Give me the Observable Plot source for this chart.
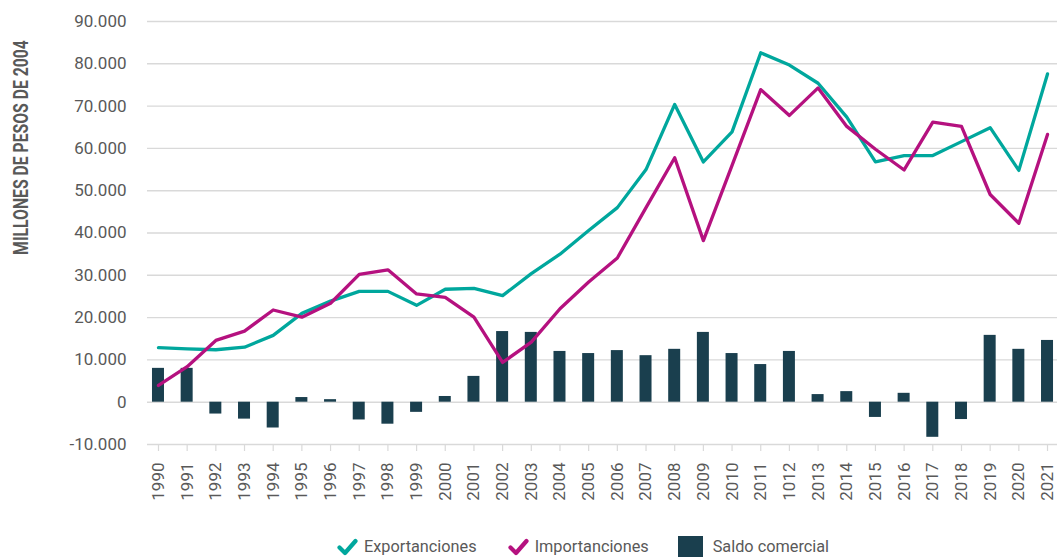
<!DOCTYPE html>
<html>
<head>
<meta charset="utf-8">
<script src="https://cdn.jsdelivr.net/npm/d3@7"></script>
<script src="https://cdn.jsdelivr.net/npm/@observablehq/plot@0.6"></script>
<style>
  html, body { margin: 0; padding: 0; background: #fff; }
  body { position: relative; width: 1057px; height: 557px; overflow: hidden; font-family: Roboto, sans-serif; }
  #chart svg { display: block; }
  #legend { position: absolute; left: 337px; top: 536px; display: flex; align-items: center; font-size: 16.3px; color: #595959; white-space: nowrap; }
  #legend .item { display: flex; align-items: center; }
  #legend .icon { margin-right: 6px; display: block; }
  #legend .sw { width: 25px; height: 21px; margin-right: 10px; }
</style>
</head>
<body>
<div id="chart"></div>
<div id="legend"></div>
<script>
const years = [1990,1991,1992,1993,1994,1995,1996,1997,1998,1999,2000,2001,2002,2003,2004,2005,2006,2007,2008,2009,2010,2011,2012,2013,2014,2015,2016,2017,2018,2019,2020,2021];
const yearLabels = ["1990","1991","1992","1993","1994","1995","1996","1997","1998","1999","2000","2001","2002","2003","2004","2005","2006","2007","2008","2009","2010","2011","1012","2013","2014","2015","2016","2017","2018","2019","2020","2021"];
const exportaciones = [12900,12600,12400,13000,15800,21000,23900,26200,26200,22900,26700,26900,25200,30400,35000,40600,46000,55000,70400,56800,63900,82600,79700,75400,67400,56800,58300,58300,61600,64900,54800,77600];
const importaciones = [3950,8400,14600,16800,21800,20100,23400,30200,31300,25600,24800,20100,9400,14200,22100,28400,34100,46000,57800,38200,56000,73900,67800,74300,65200,59800,54900,66200,65200,49100,42300,63300];
const saldoComercial = [8000,8000,-2800,-4000,-6100,1100,600,-4200,-5200,-2400,1350,6100,16700,16500,12000,11500,12200,11000,12500,16500,11500,8900,12000,1800,2500,-3600,2100,-8300,-4100,15800,12500,14600];
const yTicks = [-10000,0,10000,20000,30000,40000,50000,60000,70000,80000,90000];
const yTickLabels = ["-10.000","0","10.000","20.000","30.000","40.000","50.000","60.000","70.000","80.000","90.000"];
const seriesNames = ["Exportanciones","Importanciones","Saldo comercial"];
const seriesColors = ["#00a79d","#b5117f","#1a3f4e"];
const yTitle = "MILLONES DE PESOS DE 2004";

const rows = years.map((y, i) => ({year: y, exp: exportaciones[i], imp: importaciones[i], saldo: saldoComercial[i]}));
const textColor = "#595959";
const gridColor = "#d9d9d9";

const plot = Plot.plot({
  width: 1057,
  height: 515,
  marginTop: 21,
  marginBottom: 71,
  marginLeft: 147,
  marginRight: 0,
  style: {fontFamily: "Roboto, sans-serif", fontSize: "17px", color: textColor, background: "#fff"},
  x: {type: "band", domain: years, range: [135.3, 1069.7], paddingInner: 0.5816, paddingOuter: 0.5816, align: 0.5, round: false},
  y: {domain: [-10000, 90000]},
  marks: [
    Plot.ruleY(yTicks, {stroke: gridColor, strokeWidth: 1.4}),
    Plot.axisY({ticks: yTicks, tickSize: 0, tickPadding: 21, tickFormat: d => yTickLabels[yTicks.indexOf(d)], fill: textColor, label: null}),
    Plot.axisX({tickSize: 7, text: null, stroke: gridColor, strokeWidth: 1.2, label: null}),
    Plot.axisX({tickSize: 0, tickPadding: 18, tickRotate: -90, tickFormat: d => yearLabels[years.indexOf(d)], fill: textColor, label: null}),
    Plot.barY(rows, {x: "year", y1: 0, y2: "saldo", fill: seriesColors[2]}),
    Plot.line(rows, {x: "year", y: "exp", stroke: seriesColors[0], strokeWidth: 3.3, strokeLinejoin: "round", strokeLinecap: "round"}),
    Plot.line(rows, {x: "year", y: "imp", stroke: seriesColors[1], strokeWidth: 3.3, strokeLinejoin: "round", strokeLinecap: "round"})
  ]
});

document.getElementById("chart").appendChild(plot);

const title = d3.select(plot).append("text")
  .attr("text-anchor", "middle")
  .attr("font-family", "Roboto, sans-serif")
  .attr("font-weight", "bold")
  .attr("font-size", 19.5)
  .attr("fill", textColor)
  .text(yTitle);
const natural = title.node().getComputedTextLength() || 280;
const sx = 215 / natural;
title.attr("transform", `translate(27.5,147.5) rotate(-90) scale(${sx},1)`);

const legend = d3.select("#legend");
seriesNames.forEach((name, i) => {
  const item = legend.append("div").attr("class", "item").style("margin-right", i === 0 ? "31px" : (i === 1 ? "29px" : "0px"));
  if (i < 2) {
    const svg = item.append("svg").attr("class", "icon").attr("width", 21).attr("height", 18);
    svg.append("polyline").attr("points", "2.5,9.5 8,15 18.5,3")
      .attr("fill", "none").attr("stroke", seriesColors[i]).attr("stroke-width", 4.2)
      .attr("stroke-linecap", "round").attr("stroke-linejoin", "round");
  } else {
    item.append("div").attr("class", "sw").style("background", seriesColors[i]);
  }
  item.append("span").text(name);
});
</script>
</body>
</html>
